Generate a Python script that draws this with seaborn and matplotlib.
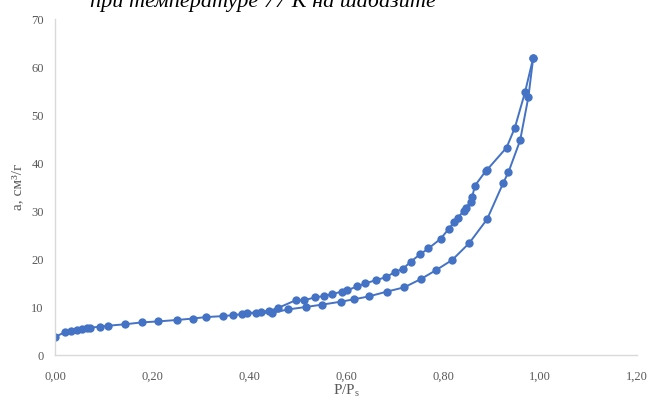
import matplotlib
matplotlib.use("Agg")
import matplotlib.pyplot as plt
import seaborn as sns
import pandas as pd
from matplotlib.ticker import FuncFormatter, MultipleLocator

# Adsorption branch (increasing pressure)
ads_p = [0.001, 0.021, 0.034, 0.046, 0.056, 0.067, 0.073, 0.092, 0.110, 0.144,
         0.180, 0.213, 0.252, 0.285, 0.311, 0.346, 0.366, 0.385, 0.415, 0.448,
         0.481, 0.517, 0.551, 0.589, 0.616, 0.647, 0.684, 0.720, 0.754, 0.786,
         0.819, 0.854, 0.891, 0.924, 0.935, 0.959, 0.976, 0.986]
ads_a = [3.8, 4.8, 5.1, 5.3, 5.4, 5.6, 5.7, 5.9, 6.1, 6.4,
         6.8, 7.0, 7.3, 7.6, 7.9, 8.1, 8.3, 8.5, 8.8, 8.8,
         9.5, 10.0, 10.5, 11.1, 11.6, 12.2, 13.2, 14.1, 15.8, 17.7,
         19.8, 23.3, 28.3, 35.8, 38.1, 44.7, 53.7, 61.9]

# Desorption branch (decreasing pressure)
des_p = [0.986, 0.969, 0.948, 0.931, 0.891, 0.888, 0.866, 0.860, 0.857, 0.847,
         0.843, 0.830, 0.823, 0.812, 0.795, 0.770, 0.753, 0.733, 0.718, 0.701,
         0.682, 0.662, 0.639, 0.623, 0.603, 0.591, 0.572, 0.555, 0.536, 0.513,
         0.496, 0.460, 0.441, 0.424, 0.395]
des_a = [61.9, 54.7, 47.3, 43.2, 38.6, 38.3, 35.3, 32.9, 31.9, 30.7,
         30.0, 28.6, 27.7, 26.3, 24.2, 22.2, 21.0, 19.4, 18.0, 17.3,
         16.2, 15.6, 14.9, 14.3, 13.5, 13.2, 12.7, 12.3, 12.0, 11.4,
         11.4, 9.8, 9.2, 9.0, 8.7]

x_ticks = [0.0, 0.2, 0.4, 0.6, 0.8, 1.0, 1.2]
y_ticks = [0, 10, 20, 30, 40, 50, 60, 70]

sns.set_theme(style="white")
plt.rcParams["font.family"] = ["Liberation Serif", "DejaVu Serif"]
plt.rcParams["mathtext.fontset"] = "custom"
plt.rcParams["mathtext.rm"] = "Liberation Serif"

blue = "#4472C4"
grey_text = "#595959"

fig = plt.figure(figsize=(6.49, 4.05), dpi=100)
ax = fig.add_axes([55 / 649, 1 - 355 / 405, (637 - 55) / 649, (355 - 19) / 405])

ads = pd.DataFrame({"p": ads_p, "a": ads_a})
des = pd.DataFrame({"p": des_p, "a": des_a})
for df in (ads, des):
    sns.lineplot(data=df, x="p", y="a", sort=False, estimator=None, ax=ax,
                 color=blue, linewidth=1.4, marker="o", markersize=6,
                 markeredgewidth=0, markerfacecolor=blue)

ax.set_xlim(x_ticks[0], x_ticks[-1])
ax.set_ylim(y_ticks[0], y_ticks[-1])
ax.xaxis.set_major_locator(MultipleLocator(0.2))
ax.yaxis.set_major_locator(MultipleLocator(10))
ax.xaxis.set_major_formatter(FuncFormatter(lambda v, _: f"{v:.2f}".replace(".", ",")))
ax.yaxis.set_major_formatter(FuncFormatter(lambda v, _: f"{v:.0f}"))
ax.tick_params(axis="y", length=0, labelsize=9, colors=grey_text, pad=8)
ax.tick_params(axis="x", length=0, labelsize=9, colors=grey_text, pad=11)

for side in ("top", "right"):
    ax.spines[side].set_visible(False)
for side in ("left", "bottom"):
    ax.spines[side].set_color("#d9d9d9")
    ax.spines[side].set_linewidth(1.0)

ax.set_xlabel(r"P/P$_{\mathrm{s}}$", fontsize=11, color=grey_text, labelpad=0)
ax.set_ylabel("a, см³/г", fontsize=11, color=grey_text, labelpad=5)
ax.grid(False)

fig.text(0.405, 1 - 7 / 405, "при температуре 77 К на шабазите",
         ha="center", va="baseline", fontsize=16, style="italic", color="black")

fig.savefig("out.png", dpi=100)
